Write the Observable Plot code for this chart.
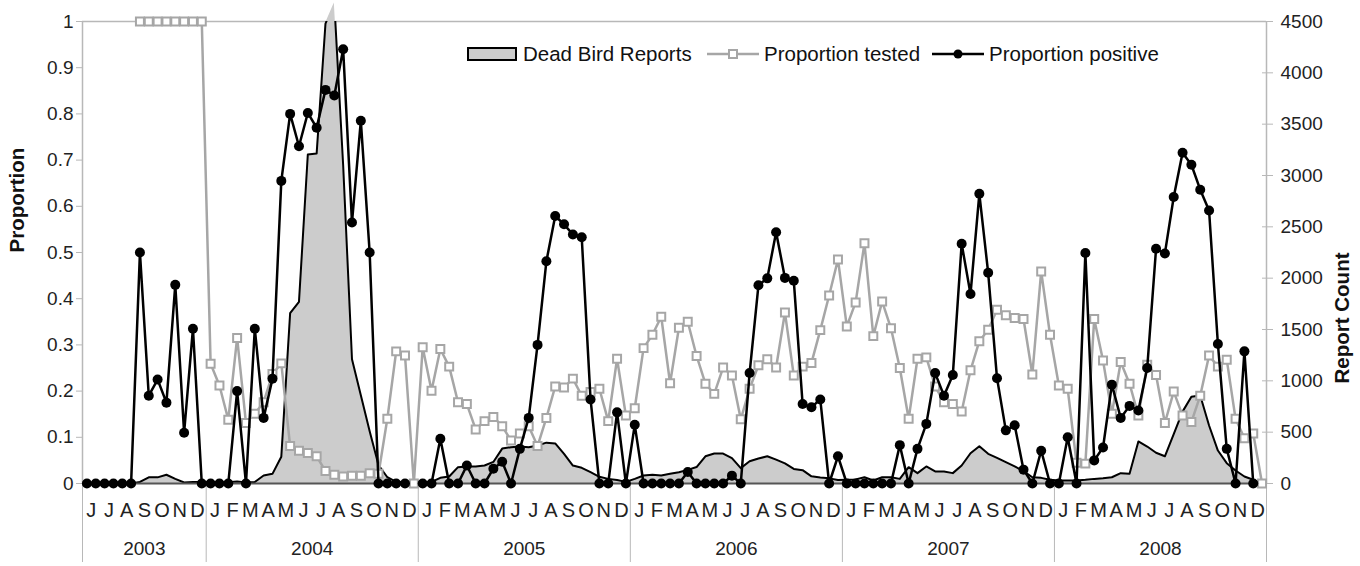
<!DOCTYPE html>
<html>
<head>
<meta charset="utf-8">
<script src="https://cdn.jsdelivr.net/npm/d3@7"></script>
<script src="https://cdn.jsdelivr.net/npm/@observablehq/plot@0.6"></script>
<style>
  body { margin: 0; background: #fff; font-family: "Liberation Sans", Arial, sans-serif; }
  #wrap { position: relative; width: 1360px; height: 566px; }
  .leg { position: absolute; top: 40px; height: 28px; display: flex; align-items: center;
         font-size: 20.5px; color: #111; white-space: nowrap; }
  .box { width: 46px; height: 10px; border: 2px solid #000; background: #cccccc; margin-right: 6px; }
  .leg svg { margin-right: 5px; }
</style>
</head>
<body>
<div id="wrap"></div>
<script>
// ---------- data ----------
const years = [2003, 2004, 2005, 2006, 2007, 2008];
const monthsPerYear = [7, 12, 12, 12, 12, 12];
const monthLabels = [
  "J","J","A","S","O","N","D",
  "J","F","M","A","M","J","J","A","S","O","N","D",
  "J","F","M","A","M","J","J","A","S","O","N","D",
  "J","F","M","A","M","J","J","A","S","O","N","D",
  "J","F","M","A","M","J","J","A","S","O","N","D",
  "J","F","M","A","M","J","J","A","S","O","N","D"
];
const seriesNames = ["Dead Bird Reports", "Proportion tested", "Proportion positive"];
const leftTicks = [0, 0.1, 0.2, 0.3, 0.4, 0.5, 0.6, 0.7, 0.8, 0.9, 1];
const rightTicks = [0, 500, 1000, 1500, 2000, 2500, 3000, 3500, 4000, 4500];

// two values per month (semi-monthly), Jun 2003 .. Dec 2008
const deadBirdReports = [
  0,0,0,0,0,0,15,60,60,85,45,10,15,15,
  10,10,12,20,10,15,78,94,260,1660,1770,3205,3215,4480,4680,3100,1210,860,510,180,61,16,10,0,
  5,16,55,68,159,166,166,175,210,340,354,360,354,370,398,390,289,175,153,110,65,45,35,16,
  45,78,85,78,94,110,133,160,265,292,292,248,150,216,243,265,233,196,142,130,70,58,50,34,
  37,40,61,29,61,61,45,159,101,166,117,117,101,175,295,363,289,250,208,166,120,61,55,36,
  29,29,29,36,45,52,61,101,94,410,360,300,265,480,700,845,857,565,321,198,127,68,36,0
];
const proportionTested = [
  null,null,null,null,null,null,1,1,1,1,1,1,1,1,
  0.259,0.212,0.138,0.315,0.131,0.151,0.176,0.237,0.26,0.081,0.071,0.066,0.059,0.027,0.019,0.015,0.017,0.017,0.022,0.021,0.14,0.286,0.277,0,
  0.295,0.201,0.291,0.253,0.176,0.172,0.117,0.135,0.144,0.124,0.093,0.108,0.124,0.081,0.142,0.21,0.208,0.227,0.19,0.198,0.205,0.135,0.27,0.147,
  0.163,0.293,0.322,0.361,0.217,0.337,0.35,0.276,0.216,0.194,0.251,0.234,0.139,0.205,0.256,0.269,0.251,0.37,0.234,0.253,0.261,0.332,0.407,0.485,
  0.34,0.392,0.52,0.319,0.394,0.336,0.25,0.14,0.27,0.273,0.21,0.176,0.172,0.156,0.245,0.308,0.333,0.376,0.364,0.358,0.356,0.236,0.459,0.322,
  0.212,0.205,0.045,0.043,0.356,0.266,0.151,0.263,0.216,0.147,0.257,0.235,0.131,0.199,0.147,0.133,0.19,0.277,0.253,0.268,0.14,0.098,0.108,0
];
const proportionPositive = [
  0,0,0,0,0,0,0.5,0.19,0.225,0.175,0.43,0.11,0.335,0,
  0,0,0,0.2,0,0.335,0.142,0.227,0.655,0.8,0.73,0.802,0.77,0.852,0.84,0.94,0.565,0.785,0.5,0,0,0,0,null,
  0,0,0.097,0,0,0.039,0,0,0.032,0.047,0,0.075,0.142,0.3,0.481,0.579,0.561,0.539,0.533,0.182,0,0,0.154,0,
  0.127,0,0,0,0,0,0.025,0,0,0,0,0.017,0,0.239,0.429,0.444,0.544,0.445,0.439,0.172,0.165,0.182,0,0.059,
  0,0,0,0,0,0,0.083,0,0.075,0.129,0.239,0.19,0.235,0.519,0.41,0.627,0.456,0.228,0.115,0.126,0.03,0,0.071,0,
  0,0.1,0,0.499,0.05,0.078,0.214,0.142,0.168,0.158,0.25,0.508,0.498,0.62,0.716,0.69,0.636,0.591,0.302,0.075,0,0.286,0,null
];
const countMax = 4500;

// ---------- tables built from the arrays ----------
const rows = deadBirdReports.map((c, i) => ({
  x: i + 0.5,
  reports: c / countMax,
  tested: proportionTested[i],
  positive: proportionPositive[i]
}));
const monthRows = monthLabels.map((m, k) => ({x: 2 * k + 1, label: m}));
let acc = 0;
const yearRows = years.map((y, k) => {
  const start = acc; acc += 2 * monthsPerYear[k];
  return {x: (start + acc) / 2, label: String(y), start};
});
const boundaries = [...yearRows.map(d => d.start), acc];

const FONT = "'Liberation Sans', Arial, sans-serif";
const GRAY = "#a6a6a6";
const AXIS = "#b8b8b8";

const chart = Plot.plot({
  width: 1360,
  height: 566,
  marginLeft: 82,
  marginRight: 94,
  marginTop: 21,
  marginBottom: 83,
  style: {fontFamily: FONT, fontSize: "19px", color: "#222", background: "#fff", overflow: "visible"},
  x: {type: "linear", domain: [0, acc], axis: null, label: null},
  y: {type: "linear", domain: [0, 1], axis: null, label: null},
  marks: [
    // frame lines
    Plot.ruleY([1], {stroke: AXIS, strokeWidth: 1.5}),
    Plot.ruleX([0, acc], {stroke: AXIS, strokeWidth: 1.5}),
    // left axis
    Plot.axisY(leftTicks, {anchor: "left", label: null, tickSize: 6, tickPadding: 3, stroke: AXIS,
      tickFormat: d => d3.format("~g")(d), fontSize: 19, fill: "#222"}),
    // right axis (count mapped onto the same vertical scale)
    Plot.axisY(rightTicks.map(v => v / countMax), {anchor: "right", label: null, tickSize: 6, tickPadding: 8, stroke: AXIS,
      tickFormat: d => String(Math.round(d * countMax)), fontSize: 19, fill: "#222"}),
    Plot.axisY(rightTicks.map(v => v / countMax), {anchor: "right", label: null, tickSize: -5, stroke: AXIS,
      tickFormat: () => ""}),
    // year separators below the axis
    Plot.axisX(boundaries, {anchor: "bottom", label: null, tickSize: 79, stroke: AXIS, tickFormat: () => ""}),
    // dead bird reports area
    Plot.areaY(rows, {x: "x", y: "reports", fill: "#cccccc"}),
    Plot.lineY(rows, {x: "x", y: "reports", stroke: "#000", strokeWidth: 2, clip: true}),
    Plot.ruleY([0], {stroke: "#555", strokeWidth: 2}),
    // proportion tested
    Plot.lineY(rows, {x: "x", y: "tested", stroke: GRAY, strokeWidth: 2.5}),
    Plot.dot(rows, {x: "x", y: "tested", symbol: "square", r: 4.5, fill: "#fff", stroke: GRAY, strokeWidth: 2}),
    // proportion positive
    Plot.lineY(rows, {x: "x", y: "positive", stroke: "#000", strokeWidth: 2.5}),
    Plot.dot(rows, {x: "x", y: "positive", r: 5, fill: "#000"}),
    // month and year labels
    Plot.text(monthRows, {x: "x", text: "label", frameAnchor: "bottom", lineAnchor: "top", dy: 19,
      fontSize: 20, fill: "#222"}),
    Plot.text(yearRows, {x: "x", text: "label", frameAnchor: "bottom", lineAnchor: "top", dy: 58,
      fontSize: 19, fill: "#222"}),
    // axis titles
    Plot.text(["Proportion"], {frameAnchor: "left", rotate: -90, dx: -65, fontWeight: "bold",
      fontSize: 20.5, fill: "#111"}),
    Plot.text(["Report Count"], {frameAnchor: "right", rotate: -90, dx: 76, fontWeight: "bold",
      fontSize: 20.5, fill: "#111"})
  ]
});

const wrap = document.getElementById("wrap");
wrap.appendChild(chart);

// legend (inside the plot area, overlaid)
const legend = [
  {name: seriesNames[0], left: 467, swatch: `<div class="box"></div>`},
  {name: seriesNames[1], left: 707, swatch:
    `<svg width="52" height="14"><line x1="0" x2="52" y1="7" y2="7" stroke="${GRAY}" stroke-width="2.5"/>` +
    `<rect x="22" y="3" width="8" height="8" fill="#fff" stroke="${GRAY}" stroke-width="2"/></svg>`},
  {name: seriesNames[2], left: 932, swatch:
    `<svg width="52" height="14"><line x1="0" x2="52" y1="7" y2="7" stroke="#000" stroke-width="2.5"/>` +
    `<circle cx="26" cy="7" r="4.5" fill="#000"/></svg>`}
];
for (const item of legend) {
  const div = document.createElement("div");
  div.className = "leg";
  div.style.left = item.left + "px";
  div.innerHTML = item.swatch + `<span>${item.name}</span>`;
  wrap.appendChild(div);
}
</script>
</body>
</html>
